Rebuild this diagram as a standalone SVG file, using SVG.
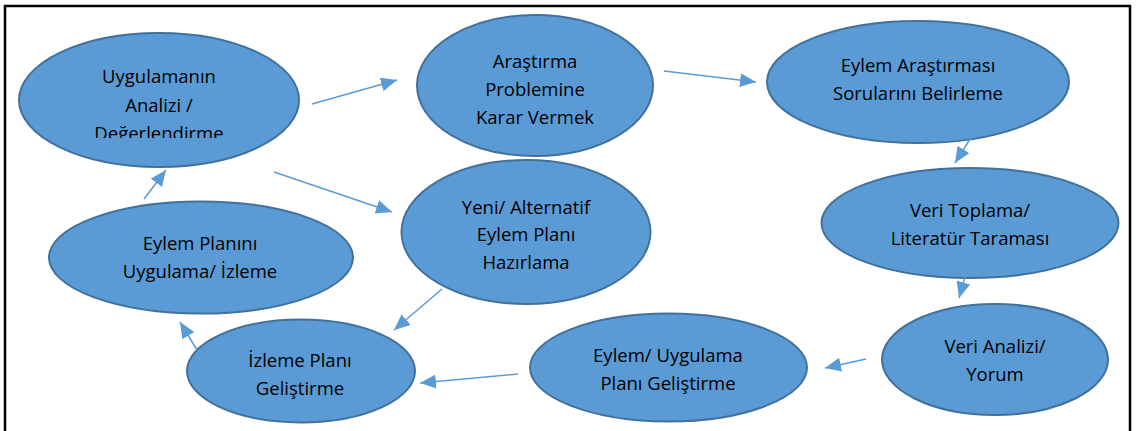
<svg xmlns="http://www.w3.org/2000/svg" width="1136" height="431" viewBox="0 0 1136 431">
<style>
.node ellipse{fill:#5B9BD5;stroke:#41719C;stroke-width:2}
.node text{font-family:"Open Sans","Liberation Sans",sans-serif;font-size:18.5px;fill:#000;text-anchor:middle}
.conn line{stroke:#5B9BD5;stroke-width:1.5;fill:none}
</style>
<defs>
<marker id="ah" markerUnits="userSpaceOnUse" markerWidth="16" markerHeight="14" viewBox="0 0 16 14" refX="16" refY="7" orient="auto">
<path d="M0,0 L16,7 L0,14 Z" fill="#5B9BD5"/>
</marker>
<clipPath id="c1"><rect x="20" y="40" width="280" height="98"/></clipPath>
</defs>
<rect x="0" y="0" width="1136" height="431" fill="#fff"/>
<path d="M5,440 V6 H1130 V440" fill="none" stroke="#000" stroke-width="2.5"/>

<g id="n1" class="node">
<ellipse cx="159" cy="100" rx="140" ry="67"/>
<g clip-path="url(#c1)">
<text x="159" y="83">Uygulamanın</text>
<text x="159" y="111.5">Analizi /</text>
<text x="159" y="140">Değerlendirme</text>
</g>
</g>
<g id="n2" class="node">
<ellipse cx="535" cy="85.5" rx="118" ry="70.5"/>
<text x="535" y="68">Araştırma</text>
<text x="535" y="96">Problemine</text>
<text x="535" y="123.5">Karar Vermek</text>
</g>
<g id="n3" class="node">
<ellipse cx="918" cy="82" rx="151" ry="61"/>
<text x="918" y="72">Eylem Araştırması</text>
<text x="918" y="99.5">Sorularını Belirleme</text>
</g>
<g id="n4" class="node">
<ellipse cx="970" cy="223" rx="148.5" ry="55"/>
<text x="970" y="217">Veri Toplama/</text>
<text x="970" y="244.5">Literatür Taraması</text>
</g>
<g id="n5" class="node">
<ellipse cx="995" cy="359.5" rx="113" ry="55.5"/>
<text x="995" y="353">Veri Analizi/</text>
<text x="995" y="380.5">Yorum</text>
</g>
<g id="n6" class="node">
<ellipse cx="668.5" cy="367.5" rx="138.5" ry="54"/>
<text x="668" y="362">Eylem/ Uygulama</text>
<text x="668" y="389.5">Planı Geliştirme</text>
</g>
<g id="n7" class="node">
<ellipse cx="301" cy="371" rx="114" ry="51.5"/>
<text x="300" y="367">İzleme Planı</text>
<text x="300" y="394.5">Geliştirme</text>
</g>
<g id="n8" class="node">
<ellipse cx="201" cy="257.5" rx="152" ry="56"/>
<text x="200" y="250">Eylem Planını</text>
<text x="200" y="278">Uygulama/ İzleme</text>
</g>
<g id="n9" class="node">
<ellipse cx="526" cy="232" rx="124.5" ry="72"/>
<text x="526" y="213.5">Yeni/ Alternatif</text>
<text x="526" y="241">Eylem Planı</text>
<text x="526" y="269">Hazırlama</text>
</g>

<g id="connectors" class="conn">
<line x1="312" y1="104" x2="397" y2="80" marker-end="url(#ah)"/>
<line x1="664" y1="71" x2="756" y2="82" marker-end="url(#ah)"/>
<line x1="972" y1="136" x2="955" y2="163" marker-end="url(#ah)"/>
<line x1="965" y1="277" x2="959" y2="298" marker-end="url(#ah)"/>
<line x1="866" y1="359" x2="825" y2="368" marker-end="url(#ah)"/>
<line x1="518" y1="374" x2="420" y2="383" marker-end="url(#ah)"/>
<line x1="197" y1="350" x2="180" y2="322" marker-end="url(#ah)"/>
<line x1="144" y1="199" x2="166" y2="170" marker-end="url(#ah)"/>
<line x1="274" y1="172" x2="392" y2="212" marker-end="url(#ah)"/>
<line x1="442" y1="289" x2="394" y2="330" marker-end="url(#ah)"/>
</g>
</svg>
